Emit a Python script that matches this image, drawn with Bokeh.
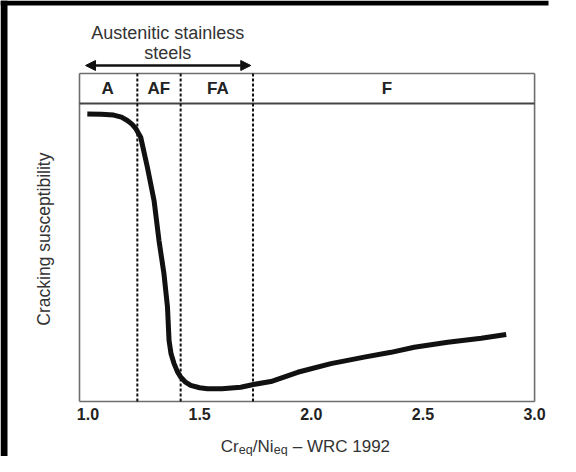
import math
from bokeh.plotting import figure
from bokeh.models import Range1d, Label, Arrow, NormalHead, FixedTicker
from bokeh.embed import file_html
from bokeh.resources import INLINE

# ---- data ----
curve_x = [0.997, 1.060, 1.115, 1.150, 1.176, 1.198, 1.214, 1.236, 1.266, 1.296, 1.318,
           1.340, 1.356, 1.363, 1.372, 1.385, 1.400, 1.415, 1.435, 1.460, 1.500, 1.535,
           1.600, 1.684, 1.741, 1.819, 1.939, 2.088, 2.237, 2.357, 2.461, 2.611, 2.761,
           2.873]
curve_y = [0.965, 0.964, 0.961, 0.954, 0.943, 0.930, 0.916, 0.887, 0.786, 0.674, 0.540,
           0.430, 0.317, 0.205, 0.160, 0.128, 0.101, 0.082, 0.066, 0.054, 0.046, 0.043,
           0.043, 0.048, 0.057, 0.067, 0.098, 0.127, 0.149, 0.165, 0.182, 0.199, 0.212,
           0.225]
boundaries = [1.221, 1.415, 1.739]
region_labels = ["A", "AF", "FA", "F"]
region_x = [1.088, 1.317, 1.582, 2.339]
tick_values = [1.0, 1.5, 2.0, 2.5, 3.0]
tick_labels = ["1.0", "1.5", "2.0", "2.5", "3.0"]
arrow_span = [0.989, 1.729]
title_lines = ["Austenitic stainless", "steels"]
y_label = "Cracking susceptibility"

FONT = "Liberation Sans"
X0, X1 = 0.962, 3.0
HEADER_TOP = 1.1007
XR = (0.6082, 3.1161)
YR = (-0.1846, 1.3456)
PX_X = (XR[1] - XR[0]) / 560.0
PX_Y = (YR[1] - YR[0]) / 456.0

p = figure(width=560, height=456, output_backend="svg", toolbar_location=None,
           x_range=Range1d(*XR), y_range=Range1d(*YR),
           y_axis_location=None, min_border_left=0, min_border_right=0,
           min_border_top=0, min_border_bottom=0)
p.outline_line_color = None
p.grid.visible = False
p.background_fill_color = "white"
p.border_fill_color = "white"

# dark scan edges of the source picture (left and top)
p.quad(left=[XR[0], XR[0]], right=[XR[0] + 7 * PX_X, XR[1] - 12 * PX_X],
       bottom=[YR[0], YR[1] - 5 * PX_Y], top=[YR[1], YR[1]],
       fill_color="black", line_color=None)

ax = p.xaxis[0]
ax.fixed_location = 0
ax.ticker = FixedTicker(ticks=tick_values)
ax.major_label_overrides = {v: s for v, s in zip(tick_values, tick_labels)}
ax.axis_line_color = None
ax.major_tick_line_color = None
ax.minor_tick_line_color = None
ax.major_tick_out = 0
ax.major_tick_in = 0
ax.major_label_standoff = 7
ax.major_label_text_font = FONT
ax.major_label_text_font_style = "bold"
ax.major_label_text_font_size = "16px"
ax.major_label_text_color = "#222222"

# frame lines
frame = "#6e6e6e"
p.segment(x0=[X0, X1, X0, X0], y0=[0, 0, 0, HEADER_TOP],
          x1=[X0, X1, X1, X1], y1=[HEADER_TOP, HEADER_TOP, 0, HEADER_TOP],
          line_color=frame, line_width=1.6)
p.segment(x0=[X0], y0=[1.0], x1=[X1], y1=[1.0], line_color="#444444", line_width=2)

# region boundaries
p.segment(x0=boundaries, y0=[0] * 3, x1=boundaries, y1=[HEADER_TOP] * 3,
          line_color="#111111", line_width=2, line_dash="3 2")

# curve
p.line(curve_x, curve_y, line_color="#111111", line_width=5, line_join="round")

# region labels
for lab, x in zip(region_labels, region_x):
    p.add_layout(Label(x=x, y=1.050, text=lab, text_align="center", text_baseline="middle",
                       text_font=FONT, text_font_style="bold", text_font_size="17px",
                       text_color="#222222"))

# arrow + title
p.add_layout(Arrow(x_start=arrow_span[0], x_end=arrow_span[1], y_start=1.1275, y_end=1.1275,
                   line_width=2.5, line_color="#111111",
                   start=NormalHead(size=10, fill_color="#111111", line_color="#111111"),
                   end=NormalHead(size=10, fill_color="#111111", line_color="#111111")))
for txt, y in zip(title_lines, [1.238, 1.171]):
    p.add_layout(Label(x=1.357, y=y, text=txt, text_align="center", text_baseline="middle",
                       text_font=FONT, text_font_size="18px", text_color="#333333"))

# y label
p.add_layout(Label(x=0.801, y=0.545, text=y_label, angle=math.pi / 2,
                   text_align="center", text_baseline="middle",
                   text_font=FONT, text_font_size="17.5px", text_color="#333333"))

# x label with subscripts
pieces = [("Cr", 0, False), ("eq", 18.0, True), ("/Ni", 32.0, False), ("eq", 53.0, True),
          ("\u2013 WRC 1992", 72.0, False)]
for txt, off, sub in pieces:
    p.add_layout(Label(x=1.5946, y=(-0.164 if sub else -0.151), x_offset=off, text=txt,
                       text_align="left", text_baseline="alphabetic",
                       text_font=FONT, text_font_size=("12.5px" if sub else "17px"),
                       text_color="#333333"))

open("out.html", "w").write(file_html(p, INLINE))
